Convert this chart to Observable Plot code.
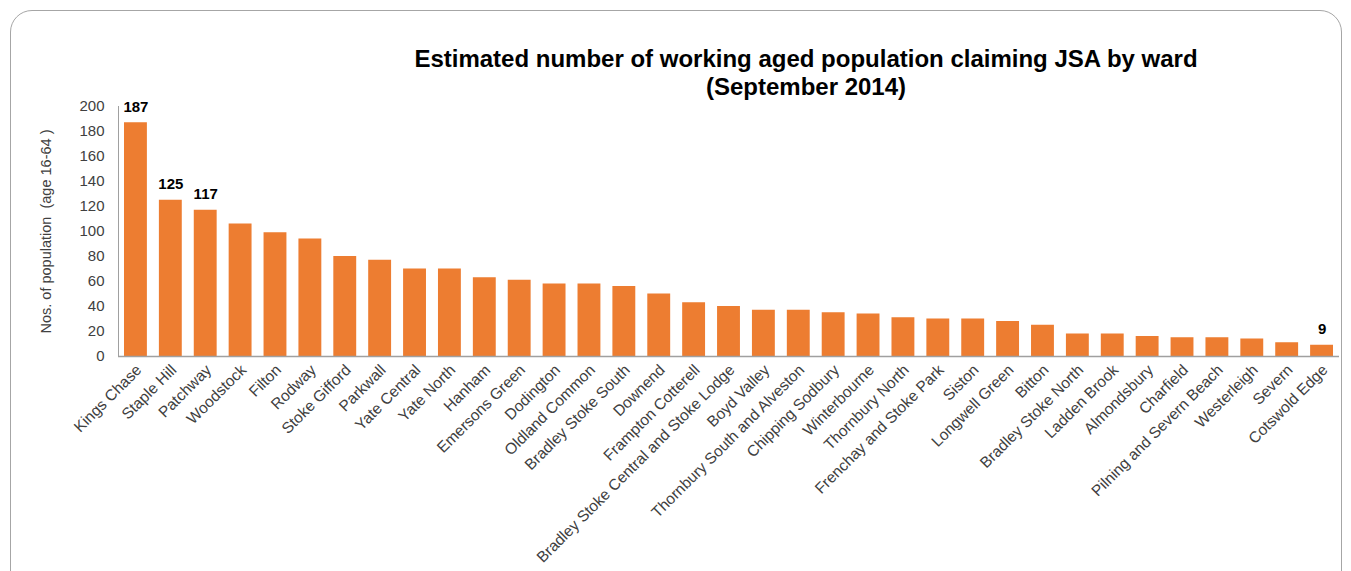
<!DOCTYPE html>
<html><head><meta charset="utf-8">
<script src="https://cdn.jsdelivr.net/npm/d3@7"></script>
<script src="https://cdn.jsdelivr.net/npm/@observablehq/plot@0.6"></script>
<style>
body{margin:0;background:#fff;font-family:"Liberation Sans",Arial,sans-serif;}
#wrap{position:relative;width:1351px;height:571px;overflow:hidden;}
#frame{position:absolute;left:10px;top:10px;width:1330px;height:640px;border:1px solid #a6a6a6;border-radius:22px;}
#title{position:absolute;left:406px;top:45px;width:800px;text-align:center;font-weight:bold;font-size:24px;line-height:28px;color:#000;}
#chart{position:absolute;left:0;top:96px;}
</style>
</head><body>
<div id="wrap"><div id="frame"></div>
<div id="title">Estimated number of working aged population claiming JSA by ward<br>(September 2014)</div>
<div id="chart"></div></div>
<script>
const wards = ["Kings Chase","Staple Hill","Patchway","Woodstock","Filton","Rodway","Stoke Gifford","Parkwall","Yate Central","Yate North","Hanham","Emersons Green","Dodington","Oldland Common","Bradley Stoke South","Downend","Frampton Cotterell","Bradley Stoke Central and Stoke Lodge","Boyd Valley","Thornbury South and Alveston","Chipping Sodbury","Winterbourne","Thornbury North","Frenchay and Stoke Park","Siston","Longwell Green","Bitton","Bradley Stoke North","Ladden Brook","Almondsbury","Charfield","Pilning and Severn Beach","Westerleigh","Severn","Cotswold Edge"];
const claimants = [187,125,117,106,99,94,80,77,70,70,63,61,58,58,56,50,43,40,37,37,35,34,31,30,30,28,25,18,18,16,15,15,14,11,9];
const labelledWards = ["Kings Chase","Staple Hill","Patchway","Cotswold Edge"];
const yTicks = [0,20,40,60,80,100,120,140,160,180,200];
const yTitle = "Nos. of population\u00a0\u00a0(age 16-64\u00a0)";

const data = wards.map((w,i)=>({ward:w, value:claimants[i]}));
const font = '"Liberation Sans", Arial, sans-serif';
const chart = Plot.plot({
  width:1351, height:475, marginTop:10, marginBottom:215, marginLeft:118, marginRight:12,
  style:{background:"transparent", fontFamily:font, overflow:"visible"},
  x:{domain:wards, padding:0, label:null},
  y:{domain:[0,200], label:null},
  marks:[
    Plot.barY(data,{x:"ward",y:"value",fill:"#ED7D31",insetLeft:6,insetRight:6}),
    Plot.ruleY([0],{stroke:"#a0a0a0",strokeWidth:1.5}),
    Plot.axisY({ticks:yTicks, tickSize:0, tickPadding:14, fontSize:15, fill:"#404040", label:null}),
    Plot.axisX({tickRotate:-45, tickSize:0, tickPadding:11, dx:3, fontSize:15.5, fill:"#404040", label:null}),
    Plot.frame({anchor:"left", stroke:"#a0a0a0"}),
    Plot.text(data.filter(d=>labelledWards.includes(d.ward)),{x:"ward",y:"value",text:d=>String(d.value),dy:-16,fontWeight:"bold",fontSize:15,fill:"#000"}),
    Plot.text([yTitle],{frameAnchor:"left",rotate:-90,dx:-72,textAnchor:"middle",fontSize:14.5,fill:"#404040"})
  ]
});
document.getElementById("chart").appendChild(chart);
</script>
</body></html>
